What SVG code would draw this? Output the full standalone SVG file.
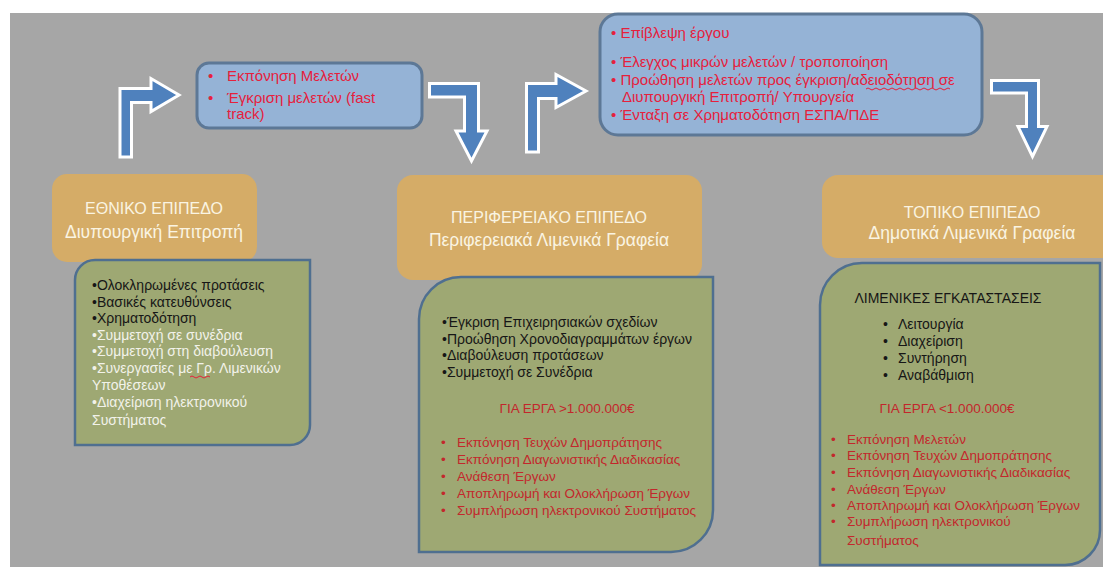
<svg xmlns="http://www.w3.org/2000/svg" width="1103" height="567" viewBox="0 0 1103 567">
<style>
text{font-family:"Liberation Sans",Arial,sans-serif}
.bg{fill:#a6a6a6}
.blue{fill:#95b3d6;stroke:#5d7896;stroke-width:3}
.arrow{fill:#4f81bd;stroke:#ffffff;stroke-width:3;stroke-linejoin:miter}
.orange{fill:#d5ac67}
.green{fill:#9ea873;stroke:#4f6f90;stroke-width:2.5}
.bt{font-size:15px;fill:#e6203c}
.ht{font-size:17.5px;fill:#faf4e2;text-anchor:middle}
.hc{font-size:16px}
.gt{font-size:14px;fill:#161616}
.wt{font-size:14px;fill:#f2f2ea}
.rt{font-size:13.5px;fill:#c3272c}
.mid{text-anchor:middle}
.sq{fill:none;stroke:#e6203c;stroke-width:1}
</style>
<rect width="1103" height="567" fill="#ffffff"/>
<rect class="bg" x="10" y="13" width="1093" height="554"/>

<g id="connectors">
<path class="arrow" d="M120,157 V88.5 H151 V78.5 L179,95 L151,111.5 V102.5 H131.5 V157 Z"/>
<path class="arrow" d="M429.5,83.5 H478.5 V131 H487 L471.5,161 L456,131 H464.5 V97 H429.5 Z"/>
<path class="arrow" d="M526.5,152 V83.5 H556 V74.5 L586,91 L556,107.5 V98.5 H538.5 V152 Z"/>
<path class="arrow" d="M991.5,80.5 H1038.5 V126.5 H1047 L1032.5,156.5 L1018,126.5 H1026.5 V93 H991.5 Z"/>
</g>

<g id="tasks-top-left">
<rect class="blue" x="197" y="63" width="225" height="65" rx="12"/>
<text class="bt" x="208" y="81">•</text>
<text class="bt" x="227" y="81">Εκπόνηση Μελετών</text>
<text class="bt" x="208" y="103">•</text>
<text class="bt" x="227" y="103">Έγκριση μελετών (fast</text>
<text class="bt" x="227" y="119">track)</text>
</g>

<g id="tasks-top-right">
<rect class="blue" x="600" y="14" width="382" height="121" rx="18"/>
<text class="bt" x="611" y="38">• Επίβλεψη έργου</text>
<text class="bt" x="611" y="67">• Έλεγχος μικρών μελετών / τροποποίηση</text>
<text class="bt" x="611" y="85">• Προώθηση μελετών προς έγκριση/αδειοδότηση σε</text>
<text class="bt" x="622" y="102">Διυπουργική Επιτροπή/ Υπουργεία</text>
<text class="bt" x="611" y="120">• Ένταξη σε Χρηματοδότηση ΕΣΠΑ/ΠΔΕ</text>
<path class="sq" d="M866,89 q2,-2 4,0 t4,0 t4,0 t4,0 t4,0 t4,0 t4,0 t4,0 t4,0 t4,0 t4,0 t4,0 t4,0 t4,0 t4,0 t4,0 t4,0 t4,0 t4,0 t4,0 t4,0"/>
</g>

<g id="national">
<rect class="orange" x="52" y="174" width="205" height="88" rx="15"/>
<text class="ht hc" x="154" y="214">ΕΘΝΙΚΟ ΕΠΙΠΕΔΟ</text>
<text class="ht" x="154" y="238">Διυπουργική Επιτροπή</text>
</g>

<g id="national-tasks">
<path class="green" d="M75,280 A20,20 0 0 1 95,260 H310 V425 A20,20 0 0 1 290,445 H75 Z"/>
<text class="gt" x="92" y="290">•Ολοκληρωμένες προτάσεις</text>
<text class="gt" x="92" y="307">•Βασικές κατευθύνσεις</text>
<text class="gt" x="92" y="323">•Χρηματοδότηση</text>
<text class="wt" x="92" y="340">•Συμμετοχή σε συνέδρια</text>
<text class="wt" x="92" y="356">•Συμμετοχή στη διαβούλευση</text>
<text class="wt" x="92" y="373">•Συνεργασίες με Γρ. Λιμενικών</text>
<text class="wt" x="92" y="390">Υποθέσεων</text>
<text class="wt" x="92" y="407">•Διαχείριση ηλεκτρονικού</text>
<text class="wt" x="92" y="425">Συστήματος</text>
<path class="sq" d="M190,377 q2,-2 4,0 t4,0 t4,0 t4,0 t4,0"/>
</g>

<g id="regional">
<rect class="orange" x="397" y="175" width="305" height="105" rx="16"/>
<text class="ht hc" x="549" y="223">ΠΕΡΙΦΕΡΕΙΑΚΟ ΕΠΙΠΕΔΟ</text>
<text class="ht" x="549" y="246">Περιφερειακά Λιμενικά Γραφεία</text>
</g>

<g id="regional-tasks">
<path class="green" d="M419,319 A42,42 0 0 1 461,277 H713 V510 A42,42 0 0 1 671,552 H419 Z"/>
<text class="gt" x="442" y="327">•Έγκριση Επιχειρησιακών σχεδίων</text>
<text class="gt" x="442" y="344">•Προώθηση Χρονοδιαγραμμάτων έργων</text>
<text class="gt" x="442" y="360">•Διαβούλευση προτάσεων</text>
<text class="gt" x="442" y="377">•Συμμετοχή σε Συνέδρια</text>
<text class="rt mid" x="567" y="413">ΓΙΑ ΕΡΓΑ &gt;1.000.000€</text>
<text class="rt" x="441" y="447">•</text><text class="rt" x="457" y="447">Εκπόνηση Τευχών Δημοπράτησης</text>
<text class="rt" x="441" y="464">•</text><text class="rt" x="457" y="464">Εκπόνηση Διαγωνιστικής Διαδικασίας</text>
<text class="rt" x="441" y="481">•</text><text class="rt" x="457" y="481">Ανάθεση Έργων</text>
<text class="rt" x="441" y="498">•</text><text class="rt" x="457" y="498">Αποπληρωμή και Ολοκλήρωση Έργων</text>
<text class="rt" x="441" y="515">•</text><text class="rt" x="457" y="515">Συμπλήρωση ηλεκτρονικού Συστήματος</text>
</g>

<g id="local">
<rect class="orange" x="822" y="175" width="300" height="83" rx="16"/>
<text class="ht hc" x="972" y="218">ΤΟΠΙΚΟ ΕΠΙΠΕΔΟ</text>
<text class="ht" x="972" y="239">Δημοτικά Λιμενικά Γραφεία</text>
</g>

<g id="local-tasks">
<path class="green" d="M820,305 A42,42 0 0 1 862,263 H1100 V530 A35,35 0 0 1 1065,565 H820 Z"/>
<text class="gt mid" x="948" y="303">ΛΙΜΕΝΙΚΕΣ ΕΓΚΑΤΑΣΤΑΣΕΙΣ</text>
<text class="gt" x="883" y="329">•</text><text class="gt" x="898" y="329">Λειτουργία</text>
<text class="gt" x="883" y="346">•</text><text class="gt" x="898" y="346">Διαχείριση</text>
<text class="gt" x="883" y="363">•</text><text class="gt" x="898" y="363">Συντήρηση</text>
<text class="gt" x="883" y="380">•</text><text class="gt" x="898" y="380">Αναβάθμιση</text>
<text class="rt mid" x="947" y="413">ΓΙΑ ΕΡΓΑ &lt;1.000.000€</text>
<text class="rt" x="831" y="444">•</text><text class="rt" x="847" y="444">Εκπόνηση Μελετών</text>
<text class="rt" x="831" y="460">•</text><text class="rt" x="847" y="460">Εκπόνηση Τευχών Δημοπράτησης</text>
<text class="rt" x="831" y="477">•</text><text class="rt" x="847" y="477">Εκπόνηση Διαγωνιστικής Διαδικασίας</text>
<text class="rt" x="831" y="494">•</text><text class="rt" x="847" y="494">Ανάθεση Έργων</text>
<text class="rt" x="831" y="510">•</text><text class="rt" x="847" y="510">Αποπληρωμή και Ολοκλήρωση Έργων</text>
<text class="rt" x="831" y="526">•</text><text class="rt" x="847" y="526">Συμπλήρωση ηλεκτρονικού</text>
<text class="rt" x="847" y="545">Συστήματος</text>
</g>
</svg>
